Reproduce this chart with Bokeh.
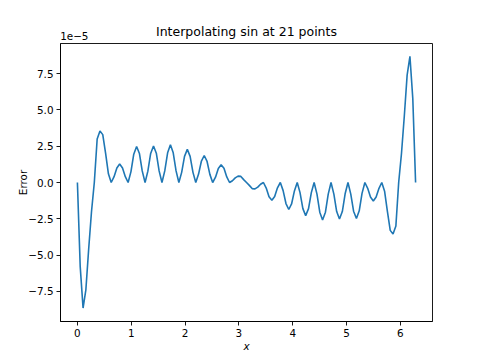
from bokeh.plotting import figure
from bokeh.models import (Range1d, FixedTicker, CustomJSTickFormatter,
                          LinearAxis)
from bokeh.embed import file_html
from bokeh.resources import INLINE

title = "Interpolating sin at 21 points"
x_label = "x"
y_label = "Error"
y_scale_text = "1e\u22125"

# sample positions along x
x_vals = [
    0.000, 0.052, 0.105, 0.157, 0.209, 0.262, 0.314, 0.367, 0.419, 0.471,
    0.524, 0.576, 0.628, 0.681, 0.733, 0.785, 0.838, 0.890, 0.942, 0.995,
    1.047, 1.100, 1.152, 1.204, 1.257, 1.309, 1.361, 1.414, 1.466, 1.518,
    1.571, 1.623, 1.676, 1.728, 1.780, 1.833, 1.885, 1.937, 1.990, 2.042,
    2.094, 2.147, 2.199, 2.251, 2.304, 2.356, 2.409, 2.461, 2.513, 2.566,
    2.618, 2.670, 2.723, 2.775, 2.827, 2.880, 2.932, 2.985, 3.037, 3.089,
    3.142, 3.194, 3.246, 3.299, 3.351, 3.403, 3.456, 3.508, 3.560, 3.613,
    3.665, 3.717, 3.770, 3.822, 3.875, 3.927, 3.979, 4.032, 4.084, 4.136,
    4.189, 4.241, 4.294, 4.346, 4.398, 4.451, 4.503, 4.555, 4.608, 4.660,
    4.712, 4.765, 4.817, 4.869, 4.922, 4.974, 5.027, 5.079, 5.131, 5.184,
    5.236, 5.288, 5.341, 5.393, 5.445, 5.498, 5.550, 5.603, 5.655, 5.707,
    5.760, 5.812, 5.864, 5.917, 5.969, 6.021, 6.074, 6.126, 6.178, 6.231,
    6.283,
]

# interpolation error, in units of 1e-5
err_e5 = [
    0.0, -5.8, -8.65, -7.4, -4.6, -2.0,
    0.0, 3.0, 3.55, 3.3, 2.0, 0.6,
    0.0, 0.4, 1.0, 1.28, 1.0, 0.4,
    0.0, 0.75, 1.95, 2.48, 2.0, 0.8,
    0.0, 0.78, 2.0, 2.52, 2.02, 0.8,
    0.0, 0.8, 2.05, 2.6, 2.05, 0.8,
    0.0, 0.7, 1.8, 2.28, 1.8, 0.7,
    0.0, 0.58, 1.48, 1.86, 1.45, 0.56,
    0.0, 0.37, 0.97, 1.23, 0.99, 0.38,
    0.0, 0.12, 0.32, 0.44, 0.42, 0.2,
    0.0, -0.2, -0.42, -0.44, -0.32, -0.12,
    0.0, -0.38, -0.99, -1.23, -0.97, -0.37,
    0.0, -0.56, -1.45, -1.86, -1.48, -0.58,
    0.0, -0.7, -1.8, -2.28, -1.8, -0.7,
    0.0, -0.8, -2.05, -2.58, -2.05, -0.8,
    0.0, -0.8, -2.0, -2.52, -2.0, -0.78,
    0.0, -0.8, -1.98, -2.48, -1.95, -0.75,
    0.0, -0.4, -1.0, -1.28, -1.0, -0.4,
    0.0, -0.6, -2.0, -3.3, -3.55, -3.0,
    0.0, 2.0, 4.6, 7.4, 8.7, 5.8,
    0.0,
]

x_ticks = [0, 1, 2, 3, 4, 5, 6]
y_ticks = [-7.5, -5.0, -2.5, 0.0, 2.5, 5.0, 7.5]

x_start, x_end = -0.3142, 6.5973
y_start, y_end = -9.58, 9.58

FONT = "DejaVu Sans"

p = figure(width=480, height=360, output_backend="svg", toolbar_location=None,
           x_range=Range1d(x_start, x_end), y_range=Range1d(y_start, y_end),
           min_border_left=60, min_border_right=48, min_border_top=43,
           min_border_bottom=39)

p.line(x_vals, err_e5, line_color="#1f77b4", line_width=1.6)

p.title.text = ""

p.grid.visible = False
p.outline_line_color = "black"
p.outline_line_width = 0.9
p.outline_line_alpha = 1.0
p.background_fill_color = "white"
p.border_fill_color = "white"

for ax in (p.xaxis[0], p.yaxis[0]):
    ax.axis_line_color = "black"
    ax.axis_line_width = 0.9
    ax.major_tick_line_color = "black"
    ax.major_tick_line_width = 0.9
    ax.major_tick_out = 4
    ax.major_tick_in = 0
    ax.minor_tick_line_color = None
    ax.major_label_text_font = FONT
    ax.major_label_text_font_size = "10.4px"
    ax.major_label_text_color = "black"
    ax.axis_label_text_font = FONT
    ax.axis_label_text_font_size = "10.4px"
    ax.axis_label_text_color = "black"
    ax.major_label_standoff = 3

p.xaxis[0].ticker = FixedTicker(ticks=x_ticks)
p.yaxis[0].ticker = FixedTicker(ticks=y_ticks)
p.yaxis[0].formatter = CustomJSTickFormatter(
    code="return tick.toFixed(1).replace('-', '\u2212');")
p.xaxis[0].axis_label = x_label
p.xaxis[0].axis_label_text_font_style = "italic"
p.xaxis[0].axis_label_standoff = 0
p.yaxis[0].axis_label = y_label
p.yaxis[0].axis_label_text_font_style = "normal"
p.yaxis[0].axis_label_standoff = -4

# top band: the scale note (as a lone tick label near the left edge) and
# the chart title (as the band's centred label)
scale_note_x = -0.058
top = LinearAxis(ticker=FixedTicker(ticks=[scale_note_x]),
                 formatter=CustomJSTickFormatter(code="return '1e\u22125';"),
                 axis_label=title)
top.axis_line_color = None
top.major_tick_line_color = None
top.minor_tick_line_color = None
top.major_tick_out = 0
top.major_tick_in = 0
top.major_label_standoff = 4
top.major_label_text_font = FONT
top.major_label_text_font_size = "10.4px"
top.major_label_text_color = "black"
top.axis_label_text_font = FONT
top.axis_label_text_font_size = "12.5px"
top.axis_label_text_font_style = "normal"
top.axis_label_text_color = "black"
top.axis_label_standoff = -10
p.add_layout(top, "above")

open("out.html", "w").write(file_html(p, INLINE))
